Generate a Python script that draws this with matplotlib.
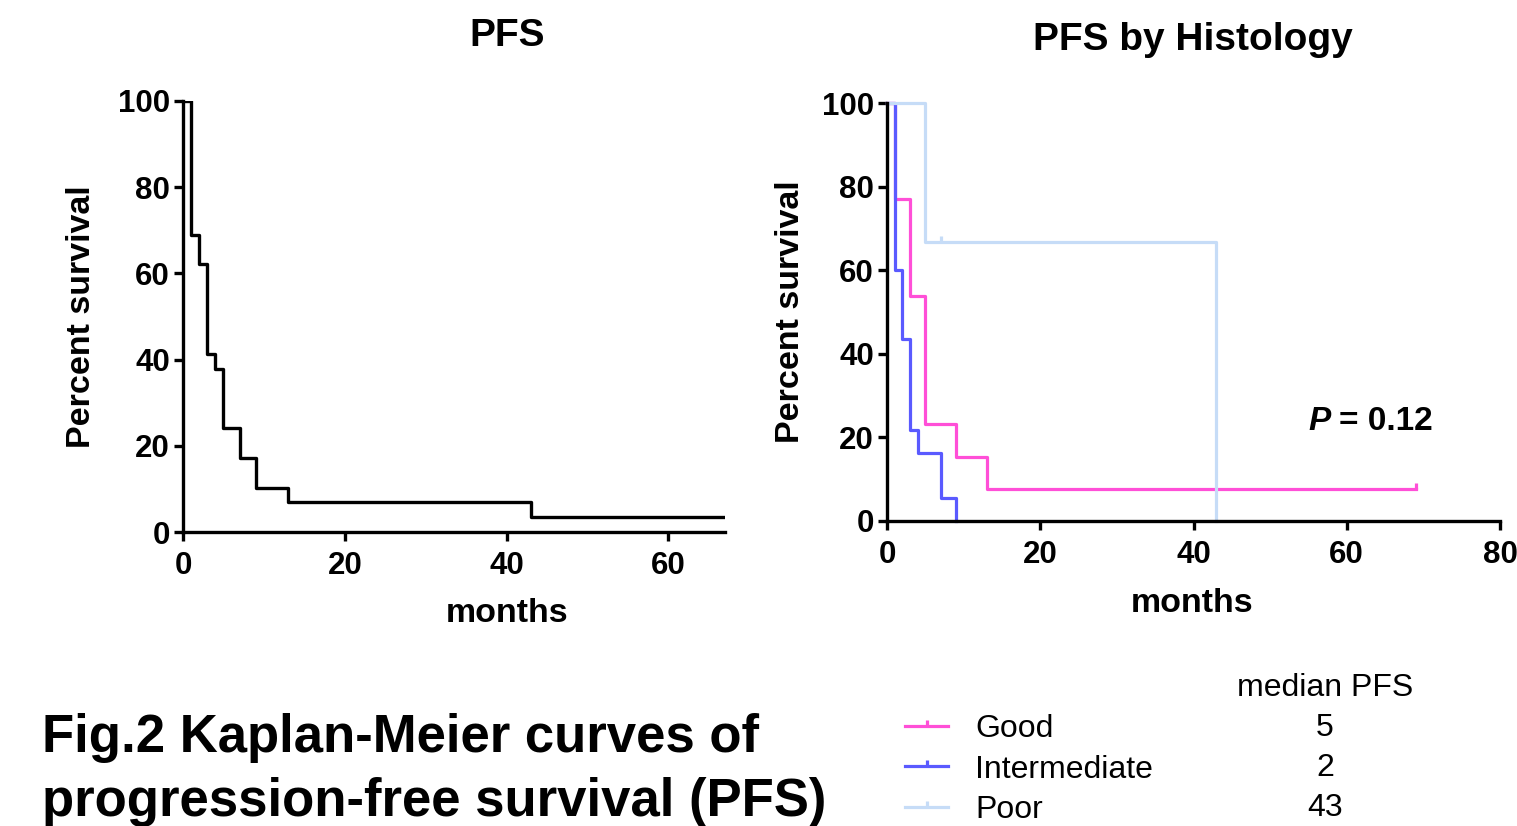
import matplotlib
matplotlib.use("Agg")
import matplotlib.pyplot as plt
from matplotlib.lines import Line2D

# overall PFS (months, percent survival)
pfs_time = [0, 1, 2, 3, 4, 5, 7, 9, 13, 43, 70]
pfs_surv = [100, 69.0, 62.1, 41.4, 37.9, 24.1, 17.2, 10.3, 6.9, 3.4, 3.4]

# PFS by histology
groups = ["Good", "Intermediate", "Poor"]
good_time = [0, 1, 3, 5, 9, 13, 69]
good_surv = [100, 77, 53.8, 23.1, 15.4, 7.7, 7.7]
inter_time = [0, 1, 2, 3, 4, 7, 9]
inter_surv = [100, 60, 43.5, 21.7, 16.3, 5.4, 0]
poor_time = [0, 5, 43]
poor_surv = [100, 66.7, 0]

# censored observations
good_cens_t, good_cens_s = [69], [7.7]
poor_cens_t, poor_cens_s = [7], [66.7]

median_pfs = [5, 2, 43]
colors = ["#FF4FD7", "#5A5AFF", "#C6DCF7"]

W, H = 1517, 826
plt.rcParams["font.family"] = ["Liberation Sans", "DejaVu Sans"]

fig = plt.figure(figsize=(W / 100, H / 100), dpi=100)

CENSOR = [(0, 0), (0, 1)]


def style_axes(ax):
    for s in ["top", "right"]:
        ax.spines[s].set_visible(False)
    for s in ["left", "bottom"]:
        ax.spines[s].set_linewidth(2.4)
    ax.tick_params(axis="both", direction="out", length=6.5, width=2.4,
                   labelsize=22.5)
    ax.tick_params(axis="x", pad=7)
    ax.tick_params(axis="y", pad=3)
    for lab in ax.get_xticklabels() + ax.get_yticklabels():
        lab.set_fontweight("bold")


# left panel
ax1 = fig.add_axes([183 / W, 1 - 532 / H, (725 - 183) / W, (532 - 101) / H])
ax1.step(pfs_time, pfs_surv, where="post", color="black", lw=2.4,
         clip_on=True)
ax1.set_xlim(0, 67)
ax1.set_ylim(0, 100)
ax1.set_xticks([0, 20, 40, 60])
ax1.set_yticks([0, 20, 40, 60, 80, 100])
style_axes(ax1)
ax1.set_ylabel("Percent survival", fontsize=24.5, fontweight="bold")
ax1.yaxis.set_label_coords((82 - 183) / 542, 0.5)
ax1.yaxis.label.set_verticalalignment("center")
ax1.set_xlabel("months", fontsize=24.5, fontweight="bold")
ax1.xaxis.set_label_coords((507 - 183) / 542, (532 - 613) / 431)
ax1.xaxis.label.set_verticalalignment("center")
fig.text(507 / W, 1 - 36 / H, "PFS", ha="center", va="center",
         fontsize=28, fontweight="bold")

# right panel
ax2 = fig.add_axes([887 / W, 1 - 521 / H, (1500 - 887) / W, (521 - 103) / H])
series = [(good_time, good_surv), (inter_time, inter_surv),
          (poor_time, poor_surv)]
for (t, s), c in zip(series, colors):
    ax2.step(t, s, where="post", color=c, lw=2.3, clip_on=False)
ax2.plot(good_cens_t, good_cens_s, ls="none", marker=CENSOR, ms=9,
         mew=2.3, color=colors[0], clip_on=False)
ax2.plot(poor_cens_t, poor_cens_s, ls="none", marker=CENSOR, ms=9,
         mew=2.3, color=colors[2], clip_on=False)
ax2.set_xlim(0, 80)
ax2.set_ylim(0, 100)
ax2.set_xticks([0, 20, 40, 60, 80])
ax2.set_yticks([0, 20, 40, 60, 80, 100])
style_axes(ax2)
ax2.set_ylabel("Percent survival", fontsize=24.5, fontweight="bold")
ax2.yaxis.set_label_coords((790 - 887) / 613, 0.5)
ax2.yaxis.label.set_verticalalignment("center")
ax2.set_xlabel("months", fontsize=24.5, fontweight="bold")
ax2.xaxis.set_label_coords((1192 - 887) / 613, (521 - 603) / 418)
ax2.xaxis.label.set_verticalalignment("center")
fig.text(1193 / W, 1 - 40 / H, "PFS by Histology", ha="center", va="center",
         fontsize=28, fontweight="bold")

ax2.text((1308 - 887) / 613, (521 - 422) / 418, "P", transform=ax2.transAxes,
         ha="left", va="center", fontsize=24, fontweight="bold",
         fontstyle="italic")
ax2.text((1433 - 887) / 613, (521 - 422) / 418, "= 0.12",
         transform=ax2.transAxes, ha="right", va="center", fontsize=24,
         fontweight="bold")

# legend with median PFS column
handles = [Line2D([0], [0], color=c, lw=2.3, marker=CENSOR, ms=8, mew=2.3)
           for c in colors]
fig.legend(handles, groups, loc="upper left",
           bbox_to_anchor=(905 / W, 1 - 714 / H), frameon=False, fontsize=23,
           handlelength=1.35, handletextpad=0.85, labelspacing=0.33,
           borderpad=0, borderaxespad=0)
fig.text(1325 / W, 1 - 688 / H, "median PFS", ha="center", va="center",
         fontsize=23)
for i, m in enumerate(median_pfs):
    fig.text(1325 / W, 1 - (728 + 40 * i) / H, str(m), ha="center",
             va="center", fontsize=23)

# caption
fig.text(42 / W, 1 - 752 / H, "Fig.2 Kaplan-Meier curves of", ha="left",
         va="baseline", fontsize=38, fontweight="bold")
fig.text(42 / W, 1 - 816 / H, "progression-free survival (PFS)", ha="left",
         va="baseline", fontsize=38, fontweight="bold")

fig.savefig("out.png", dpi=100)
